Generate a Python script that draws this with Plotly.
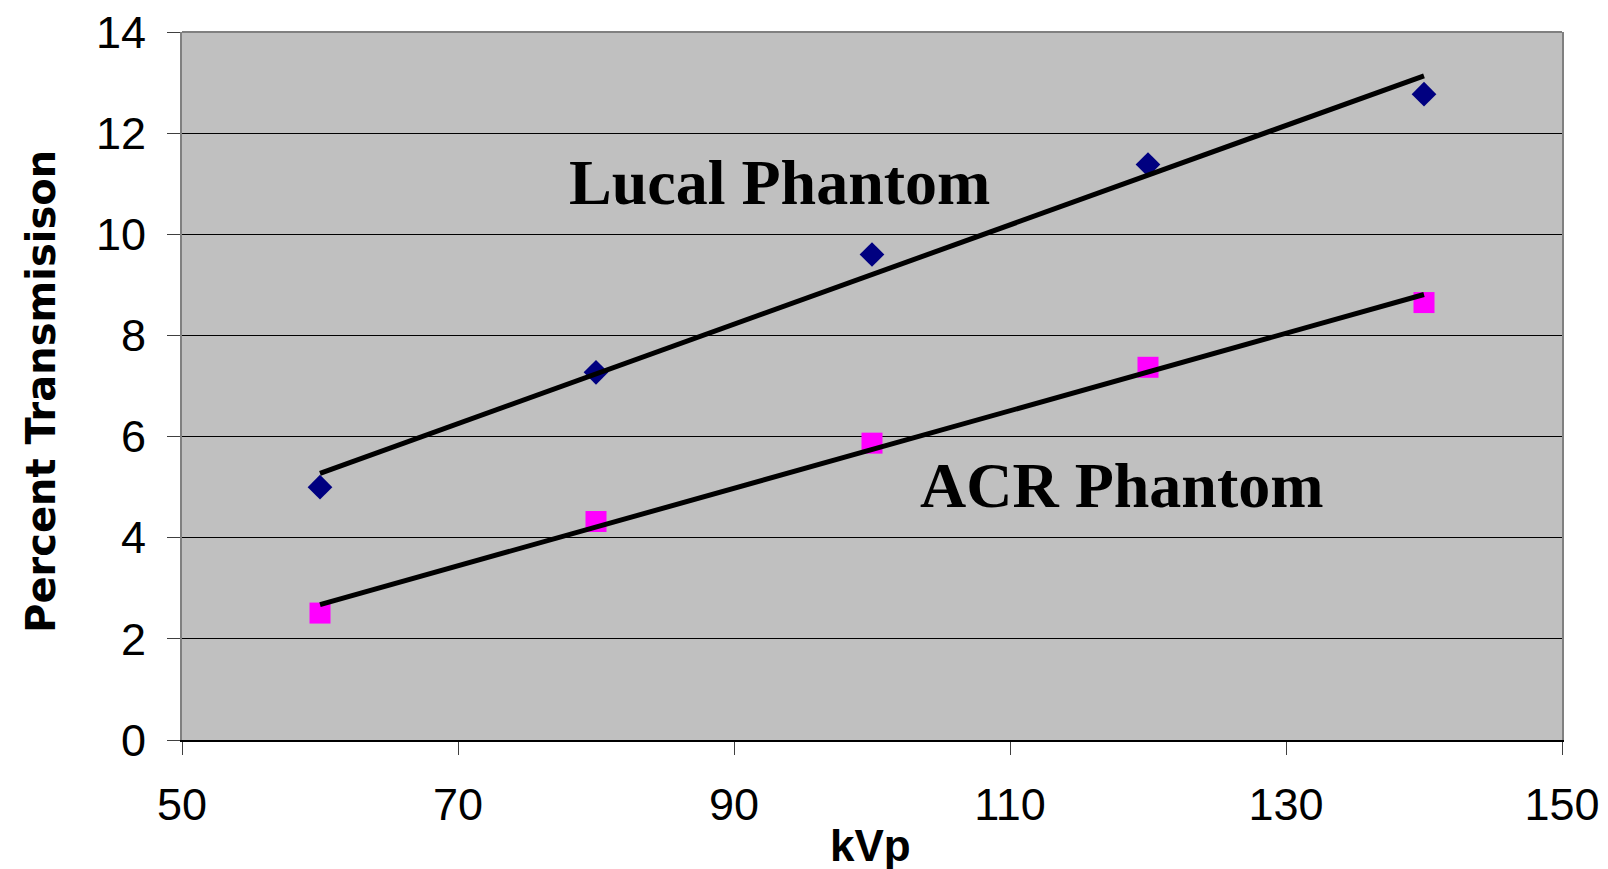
import numpy as np
import plotly.graph_objects as go

kvp = [60, 80, 100, 120, 140]
lucal = [5.0, 7.27, 9.60, 11.38, 12.77]
acr = [2.51, 4.32, 5.87, 7.37, 8.65]

x_ticks = [50, 70, 90, 110, 130, 150]
y_ticks = [0, 2, 4, 6, 8, 10, 12, 14]

def trend(x, y):
    m, b = np.polyfit(x, y, 1)
    xs = [min(x), max(x)]
    return xs, [m * v + b for v in xs]

fig = go.Figure()

lx, ly = trend(kvp, lucal)
ax_, ay_ = trend(kvp, acr)

fig.add_trace(go.Scatter(x=kvp, y=lucal, mode="markers",
                         marker=dict(symbol="diamond", size=19, color="#000080",
                                     line=dict(width=0)), showlegend=False))
fig.add_trace(go.Scatter(x=kvp, y=acr, mode="markers",
                         marker=dict(symbol="square", size=21, color="#FF00FF",
                                     line=dict(width=0)), showlegend=False))
fig.add_trace(go.Scatter(x=lx, y=ly, mode="lines",
                         line=dict(color="black", width=5), showlegend=False))
fig.add_trace(go.Scatter(x=ax_, y=ay_, mode="lines",
                         line=dict(color="black", width=5), showlegend=False))

fig.add_annotation(x=93.3, y=11.03, text="<b>Lucal Phantom</b>", showarrow=False,
                   font=dict(family="Liberation Serif", size=64, color="black"),
                   xanchor="center", yanchor="middle")
fig.add_annotation(x=118.15, y=5.03, text="<b>ACR Phantom</b>", showarrow=False,
                   font=dict(family="Liberation Serif", size=64, color="black"),
                   xanchor="center", yanchor="middle")

# axis titles as annotations
fig.add_annotation(xref="paper", yref="paper", x=-0.1022, y=0.493,
                   text="<b>Percent Transmisison</b>", textangle=-90, showarrow=False,
                   font=dict(family="DejaVu Sans", size=40, color="black"),
                   xanchor="center", yanchor="middle")
fig.add_annotation(xref="paper", yref="paper", x=0.4986, y=-0.149,
                   text="<b>kVp</b>", showarrow=False,
                   font=dict(family="Liberation Sans", size=44, color="black"),
                   xanchor="center", yanchor="middle")

# top border
fig.add_shape(type="line", xref="paper", yref="paper", x0=0, x1=1, y0=1, y1=1,
              line=dict(color="#808080", width=2), layer="above")

fig.update_layout(
    width=1608, height=869,
    margin=dict(l=182, r=46, t=32, b=129),
    paper_bgcolor="white", plot_bgcolor="#C0C0C0",
    font=dict(family="Liberation Sans", color="black"),
)
fig.update_xaxes(
    range=[50, 150], tickvals=x_ticks, ticktext=[str(v) for v in x_ticks],
    showgrid=False, zeroline=False, automargin=False,
    showline=True, linecolor="black", linewidth=2,
    ticks="outside", ticklen=13, tickcolor="#404040", tickwidth=1,
    tickfont=dict(family="Liberation Sans", size=45, color="black"),
    ticklabelstandoff=11,
)
fig.update_yaxes(
    range=[0, 14], tickvals=y_ticks, ticktext=[str(v) for v in y_ticks],
    showgrid=True, gridcolor="black", gridwidth=1, zeroline=False, automargin=False,
    showline=True, linecolor="#808080", linewidth=2, mirror=True,
    ticks="outside", ticklen=13, tickcolor="#404040", tickwidth=1,
    tickfont=dict(family="Liberation Sans", size=45, color="black"),
    ticklabelstandoff=12,
)

fig.write_html("out.html", config={"displayModeBar": False},
               post_script="document.body.style.margin='0';document.body.style.overflow='hidden';")
